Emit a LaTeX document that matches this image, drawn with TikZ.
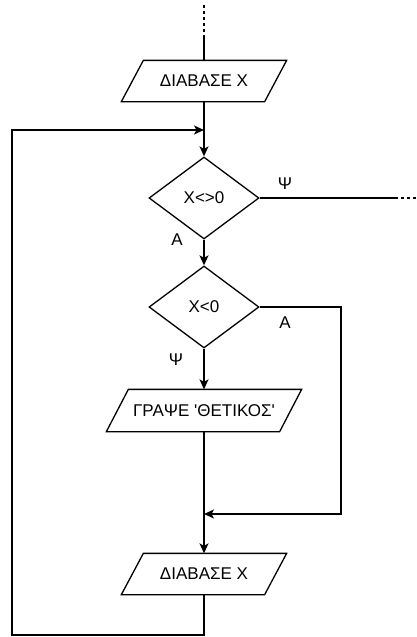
\documentclass[tikz,border=0pt]{standalone}
\usepackage{fontspec}
\setmainfont{Liberation Sans}
\usetikzlibrary{shapes.geometric,arrows.meta,calc}
\begin{document}
\begin{tikzpicture}[x=1pt,y=-1pt,
  line width=1.3pt,
  arr/.style={-{Stealth[length=10pt,width=9pt,inset=2.5pt]}},
  txt/.style={font=\fontsize{17}{20}\selectfont},
  iobox/.style={draw=none,inner sep=0pt,minimum height=40pt,txt},
  decision/.style={diamond,draw,inner sep=0pt,minimum width=110pt,minimum height=82pt,line width=1.3pt,txt},
  lbl/.style={txt,inner sep=0pt}]
\useasboundingbox (0,0) rectangle (417,637);
% input/output boxes
\node[iobox,minimum width=164pt] (p1) at (204,81) {ΔΙΑΒΑΣΕ Χ};
\node[iobox,minimum width=194pt,minimum height=41pt] (p2) at (204,410.5) {ΓΡΑΨΕ \textquotesingle ΘΕΤΙΚΟΣ\textquotesingle};
\node[iobox,minimum width=164pt] (p3) at (204,574) {ΔΙΑΒΑΣΕ Χ};
\foreach \p/\s in {p1/22,p2/22,p3/22}{
  \draw ($(\p.north west)+(\s,0)$) -- (\p.north east) -- ($(\p.south east)-(\s,0)$) -- (\p.south west) -- cycle;
}
% decisions
\node[decision] (d1) at (204,198) {Χ<>0};
\node[decision] (d2) at (204,307) {Χ<0};
% coordinates
\coordinate (t0) at (204,5);
\coordinate (t1) at (204,35);
\coordinate (r1) at (395,198);
\coordinate (r2) at (417,198);
\coordinate (j1) at (204,130);
\coordinate (j2) at (204,514);
\coordinate (c1) at (341,514);
\coordinate (b1) at (204,635);
\coordinate (b2) at (12,635);
\coordinate (b3) at (12,130);
% connectors
\draw[dashed] (t0) -- (t1);
\draw (t1) -- (p1.north);
\draw[arr] (p1.south) -- (d1.north);
\draw (d1.east) -- (r1);
\draw[dashed] (r1) -- (r2);
\draw[arr] (d1.south) -- (d2.north);
\draw[arr] (d2.south) -- (p2.north);
\draw[arr] (d2.east) -| (c1) -- (j2);
\draw (p2.south) -- (j2);
\draw[arr] (j2) -- (p3.north);
\draw[arr] (p3.south) -- (b1) -- (b2) -- (b3) -- (j1);
% labels
\node[lbl] (l1) at (285,184) {Ψ};
\node[lbl] (l2) at (177,240) {Α};
\node[lbl] (l3) at (285,323) {Α};
\node[lbl] (l4) at (176,360) {Ψ};
\end{tikzpicture}
\end{document}
